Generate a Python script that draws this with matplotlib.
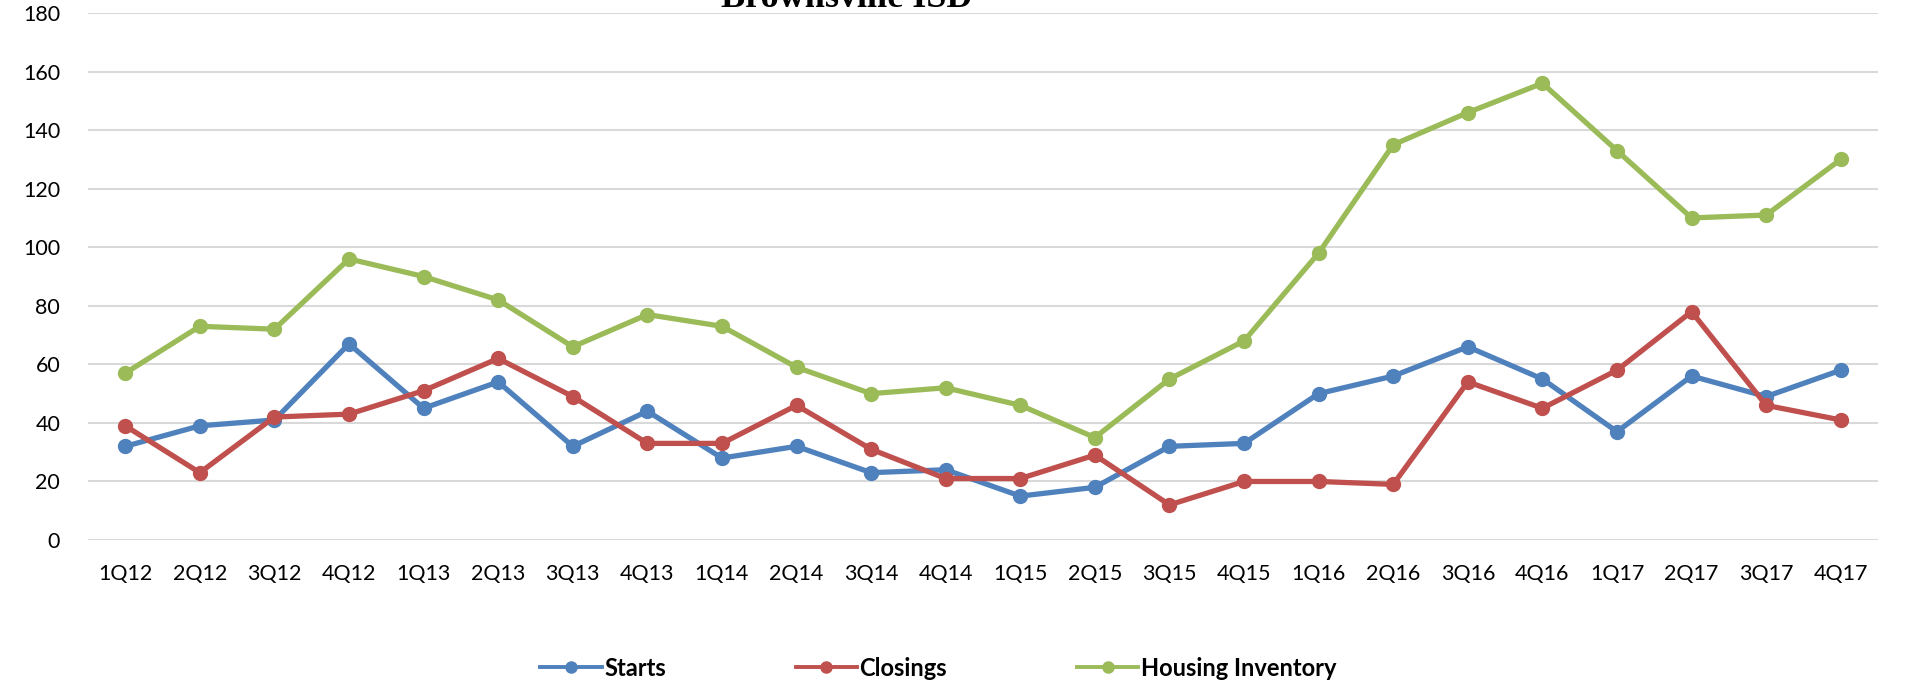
import numpy as np
import matplotlib
matplotlib.use("Agg")
import matplotlib.pyplot as plt
from matplotlib.lines import Line2D

quarters = ["1Q12", "2Q12", "3Q12", "4Q12", "1Q13", "2Q13", "3Q13", "4Q13",
            "1Q14", "2Q14", "3Q14", "4Q14", "1Q15", "2Q15", "3Q15", "4Q15",
            "1Q16", "2Q16", "3Q16", "4Q16", "1Q17", "2Q17", "3Q17", "4Q17"]
starts = [32, 39, 41, 67, 45, 54, 32, 44, 28, 32, 23, 24,
          15, 18, 32, 33, 50, 56, 66, 55, 37, 56, 49, 58]
closings = [39, 23, 42, 43, 51, 62, 49, 33, 33, 46, 31, 21,
            21, 29, 12, 20, 20, 19, 54, 45, 58, 78, 46, 41]
inventory = [57, 73, 72, 96, 90, 82, 66, 77, 73, 59, 50, 52,
             46, 35, 55, 68, 98, 135, 146, 156, 133, 110, 111, 130]
yticks = [0, 20, 40, 60, 80, 100, 120, 140, 160, 180]

plt.rcParams['font.family'] = ['Lato', 'DejaVu Sans']

fig = plt.figure(figsize=(19.08, 6.84), dpi=100)
ax = fig.add_axes([0.0461, 0.2105, 0.9382, 0.7705])

x = np.arange(len(quarters))
series = [("Starts", starts, "#4F81BD"),
          ("Closings", closings, "#C0504D"),
          ("Housing Inventory", inventory, "#9BBB59")]
for name, vals, col in series:
    ax.plot(x, vals, '-', color=col, lw=3.8, marker='o', ms=10, label=name,
            solid_joinstyle='round', solid_capstyle='round')

ax.set_xlim(-0.5, len(quarters) - 0.5)
ax.set_ylim(0, 180)
ax.set_yticks(yticks)
ax.set_xticks(x)
ax.set_xticklabels(quarters)
ax.tick_params(axis='both', length=0, labelsize=15.5, colors='#000000')
ax.tick_params(axis='y', pad=20)
ax.tick_params(axis='x', pad=17)
ax.grid(axis='y', color='#D9D9D9', lw=1.5)
ax.set_axisbelow(True)
for s in ax.spines.values():
    s.set_visible(False)

# title is cut off at the top edge of the picture
fig.text(0.444, 1 - 7 / 684, "Brownsville ISD", ha='center', va='baseline',
         fontsize=26, fontweight='bold', family='Liberation Serif')

handles = [Line2D([], [], color=c, lw=2.8, marker='o', ms=8) for _, _, c in series]
fig.legend(handles, [s[0] for s in series], loc='center', ncol=3,
           bbox_to_anchor=(0.4917, 1 - 668 / 684), frameon=False,
           prop={'weight': 'bold', 'size': 17}, handlelength=2.6,
           handletextpad=0.1, columnspacing=5.5)

fig.savefig("out.png", dpi=100)
